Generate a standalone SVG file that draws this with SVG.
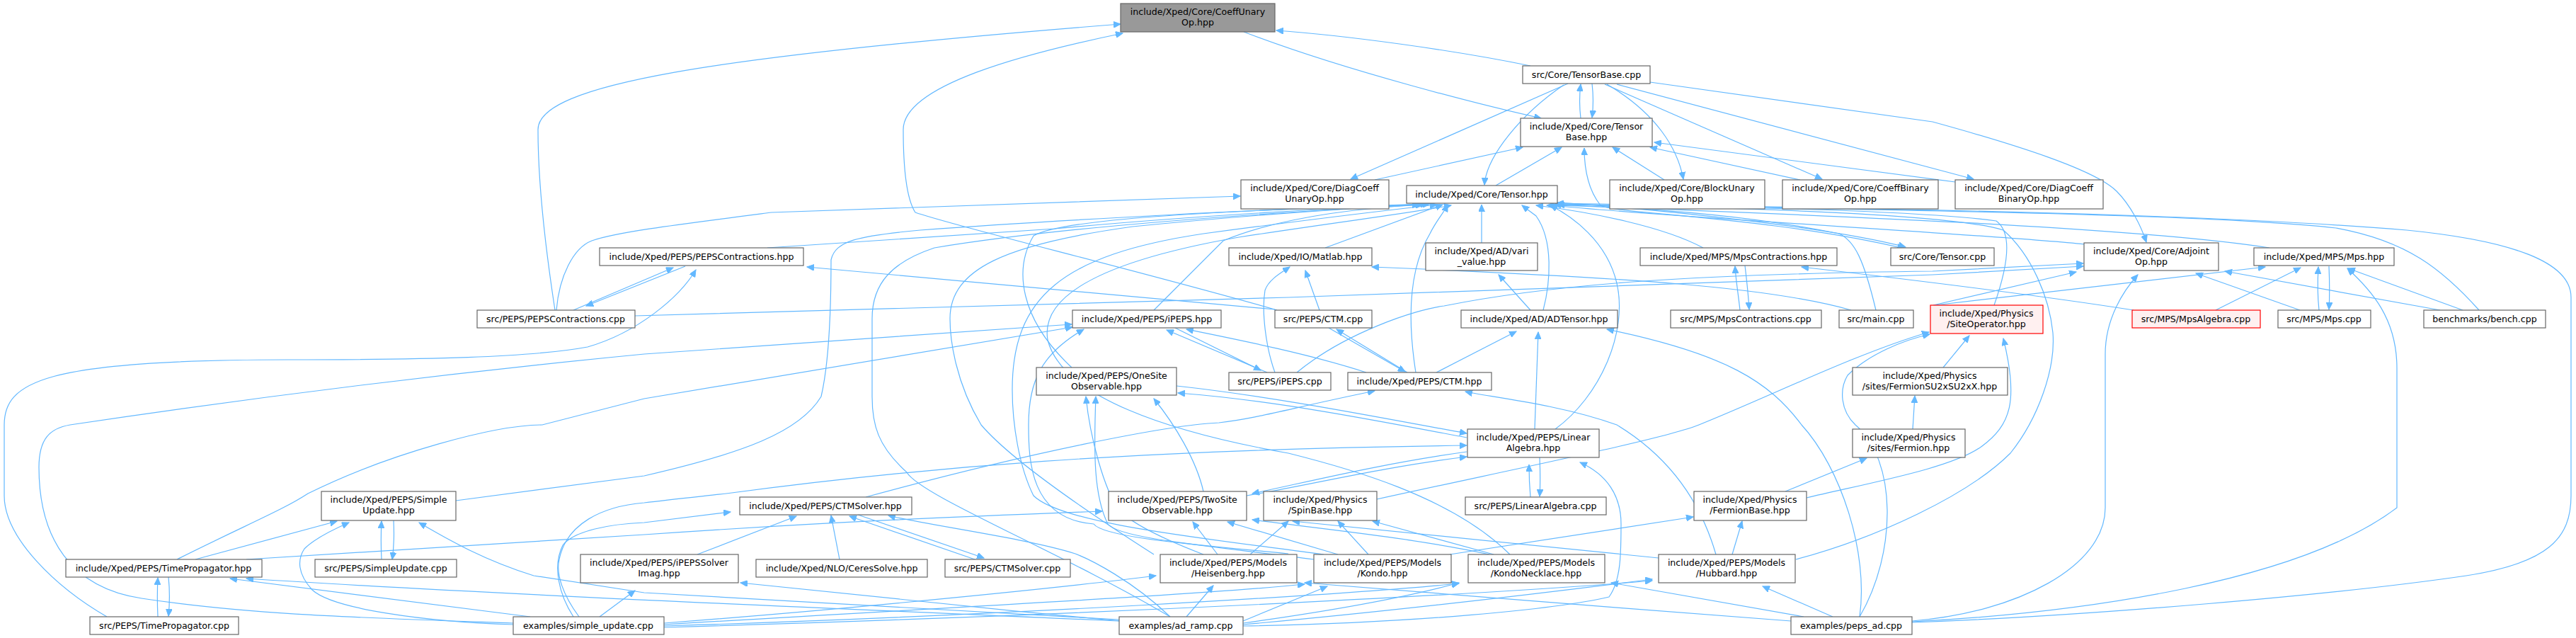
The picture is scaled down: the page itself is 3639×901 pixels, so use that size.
<svg xmlns="http://www.w3.org/2000/svg" width="3639" height="901" viewBox="0 0 3639 901">
<style>
.n rect{fill:#fff;stroke:#666;stroke-width:1.2}
.m rect{fill:#999;stroke:#666;stroke-width:1.2}
.r rect{fill:#fff0f0;stroke:#ff0000;stroke-width:1.2}
text{font-family:"DejaVu Sans",sans-serif;font-size:12.6px;fill:#000;text-anchor:middle}
#edges path{fill:none;stroke:#63b8ff;stroke-width:1.2;marker-end:url(#a)}
#edges path.b{marker-start:url(#s)}
</style>
<defs>
<marker id="a" markerWidth="11" markerHeight="9" refX="10" refY="4.5" orient="auto" markerUnits="userSpaceOnUse"><path d="M0,0 L10,4.5 L0,9 z" fill="#63b8ff" stroke="#63b8ff"/></marker>
<marker id="s" markerWidth="11" markerHeight="9" refX="10" refY="4.5" orient="auto-start-reverse" markerUnits="userSpaceOnUse"><path d="M0,0 L10,4.5 L0,9 z" fill="#63b8ff" stroke="#63b8ff"/></marker>
</defs>
<rect width="3639" height="901" fill="#fff"/>
<g id="edges">
<path d="M2162,93 C2050,70 1900,50 1803,43"/>
<path d="M1757,45 C1900,100 2100,150 2177,167"/>
<path d="M784,438 C772,360 760,260 760,183 C760,120 1000,80 1583,34"/>
<path d="M1804,438 C1600,380 1350,320 1293,300 C1280,280 1276,230 1276,183 C1276,120 1450,75 1586,47"/>
<path d="M2233,167 C2231,150 2231,135 2233,119"/>
<path d="M2249,118 C2251,135 2251,150 2249,166"/>
<path d="M2215,118 L1908,253"/>
<path d="M2209,120 C2150,160 2100,220 2097,261"/>
<path d="M2270,119 C2340,160 2370,210 2378,253"/>
<path d="M2267,119 L2574,253"/>
<path d="M2284,119 L2788,253"/>
<path d="M2331,116 L2730,172 C2850,205 2960,240 2990,270 C3010,290 3025,320 3032,342"/>
<path d="M1942,254 L2151,208"/>
<path d="M2113,262 L2206,208"/>
<path class="b" d="M2690,351 C2500,306 2280,302 2261,290 C2245,270 2238,240 2238,209"/>
<path d="M2351,254 L2278,208"/>
<path d="M2543,254 L2331,208"/>
<path d="M2762,257 L2337,201"/>
<path d="M786,438 C790,390 810,350 836,340 C870,328 950,318 1090,300 L1752,277"/>
<path d="M1084,350 L1490,323 C1650,308 1800,298 2017,288"/>
<path d="M968,376 L828,432"/>
<path d="M810,438 L951,378"/>
<path d="M151,871 C80,830 6,760 6,700 L6,600 C6,540 60,508 406,508 C600,508 750,505 830,490 C900,470 960,420 983,381"/>
<path d="M1801,437 L1140,377"/>
<path d="M1801,526 C1788,490 1782,440 1787,410 C1792,395 1810,385 1822,377"/>
<path d="M1864,438 L1844,382"/>
<path d="M2615,438 C2500,405 2300,392 1938,377"/>
<path d="M1872,350 L2038,289"/>
<path d="M2093,343 L2093,289"/>
<path d="M2162,438 L2117,388"/>
<path d="M2180,438 C2190,400 2195,340 2170,305 L2150,290"/>
<path d="M2029,526 L2142,468"/>
<path d="M2168,606 L2173,469"/>
<path d="M2627,871 C2640,780 2600,660 2545,600 C2500,540 2440,500 2270,465"/>
<path d="M2406,350 C2350,320 2250,300 2170,290"/>
<path d="M2465,375 C2468,400 2470,420 2471,437"/>
<path d="M2458,438 C2455,410 2452,395 2451,376"/>
<path d="M3014,438 C2900,420 2700,395 2545,377"/>
<path d="M2190,285 C2400,300 2600,325 2692,349"/>
<path d="M2945,345 C2800,330 2400,310 2190,290"/>
<path d="M3206,350 C3000,318 2500,302 2195,289"/>
<path d="M3502,438 C3450,380 3400,340 3300,322 C3100,300 2600,296 2198,288"/>
<path d="M2701,879 C2950,870 3300,840 3484,813 C3600,795 3632,760 3632,700 L3632,420 C3632,370 3550,340 3400,325 C3100,300 2600,294 2199,287"/>
<path d="M2701,878 C2950,865 3250,820 3386,717 L3386,520 C3386,450 3350,410 3316,379"/>
<path d="M2701,877 C2850,865 2974,800 2974,717 L2974,500 C2974,450 3000,410 3020,388"/>
<path d="M3249,438 L3102,386"/>
<path d="M3447,438 L3143,383"/>
<path d="M2731,431 L2933,384"/>
<path d="M2733,431 L3200,377"/>
<path d="M897,446 L1820,420 L2730,388 L2943,376"/>
<path d="M1832,526 C1900,470 2000,437 2040,432 C2200,400 2400,387 2730,383 L2943,372"/>
<path d="M3130,438 L3250,378"/>
<path d="M3276,438 C3274,420 3274,395 3275,377"/>
<path d="M3290,376 C3291,400 3291,420 3290,437"/>
<path d="M3479,438 L3317,379"/>
<path d="M2817,431 C2835,380 2845,330 2820,312 C2700,296 2400,291 2200,289"/>
<path d="M2537,790 C2650,760 2780,700 2840,640 C2880,590 2904,520 2900,470 C2895,420 2870,360 2830,325 C2750,300 2400,292 2200,289"/>
<path d="M2745,519 L2782,474"/>
<path d="M2552,703 C2650,680 2760,660 2800,630 C2840,600 2852,567 2830,478"/>
<path d="M1945,705 C2150,660 2350,620 2400,600 C2500,560 2620,500 2725,469"/>
<path d="M2627,871 C2680,780 2680,650 2621,600 C2600,580 2598,550 2610,530 C2640,500 2690,480 2726,472"/>
<path d="M2702,606 L2705,559"/>
<path d="M2522,694 L2637,647"/>
<path d="M2447,783 L2461,736"/>
<path d="M2048,783 L2392,730"/>
<path d="M1933,783 L1890,736"/>
<path d="M2110,783 L1939,736"/>
<path d="M2343,788 L1826,736"/>
<path d="M1766,783 L1820,736"/>
<path d="M2650,438 C2633,367 2620,340 2598,330 C2450,300 2300,292 2185,290"/>
<path d="M1630,438 L1728,340 C1800,310 1900,295 2010,289"/>
<path d="M1514,519 C1440,450 1432,380 1460,333 C1500,310 1700,298 2005,289"/>
<path d="M2000,526 C1988,450 1990,380 2020,330 C2030,310 2040,300 2045,289"/>
<path d="M2197,606 C2260,560 2300,470 2284,400 C2270,340 2220,305 2190,290"/>
<path d="M644,707 L910,672 C1050,640 1130,610 1160,560 C1174,500 1174,400 1174,367 C1180,340 1212,333 1300,325 C1500,310 1800,295 2010,288"/>
<path d="M1653,871 C1500,780 1300,700 1281,667 C1240,630 1232,600 1232,560 L1232,450 C1232,400 1260,370 1320,350 C1500,320 1800,300 2010,289"/>
<path d="M1630,783 C1500,700 1420,640 1386,600 C1350,540 1342,480 1342,450 C1342,380 1420,345 1600,320 C1800,300 1950,292 2020,288"/>
<path d="M1870,783 C1700,760 1500,740 1460,700 C1440,660 1430,600 1430,550 C1430,420 1500,360 1700,330 C1850,310 1950,298 2030,289"/>
<path d="M2133,783 C2050,700 1900,660 1820,640 C1650,610 1500,560 1480,480 C1470,420 1550,370 1750,335 C1900,312 2000,300 2050,290"/>
<path d="M1988,526 L1888,465"/>
<path d="M1877,463 L1985,525"/>
<path d="M1790,526 L1648,466"/>
<path d="M1660,463 L1781,523"/>
<path d="M1930,526 C1850,500 1750,480 1676,465"/>
<path d="M250,790 C350,740 400,720 435,697 C550,640 700,600 766,600 L910,563 L1515,462"/>
<path d="M725,880 C500,872 350,868 200,845 C100,830 55,760 55,660 C55,620 70,605 99,600 C300,570 600,530 910,500 L1514,458"/>
<path d="M276,790 L476,736"/>
<path d="M725,882 C600,878 470,860 441,833 C420,810 420,790 430,775 C445,760 470,748 493,738"/>
<path d="M1581,875 C1300,860 1000,840 910,837 L754,813 C680,790 630,760 592,738"/>
<path d="M539,790 C538,770 538,755 539,736"/>
<path d="M556,735 C557,755 557,770 554,790"/>
<path d="M223,871 C222,850 222,835 223,816"/>
<path d="M238,815 C240,835 240,850 238,870"/>
<path d="M749,871 L325,817"/>
<path d="M1581,877 C1200,860 700,840 348,817"/>
<path d="M348,790 L910,755 C1200,735 1400,728 1557,722"/>
<path d="M818,871 C795,840 785,810 790,790 C800,740 850,715 910,710 C950,705 1000,700 1026,697 C1300,660 1600,635 2072,629"/>
<path d="M810,871 C790,840 780,800 795,770 C810,750 860,740 910,738 L1032,723"/>
<path d="M847,871 L897,834"/>
<path d="M938,880 C1200,860 1500,830 1633,813"/>
<path d="M985,783 L1125,729"/>
<path d="M1186,790 L1174,728"/>
<path d="M1380,791 L1200,729"/>
<path d="M1212,727 L1390,788"/>
<path d="M1653,871 C1600,820 1540,790 1519,782 C1450,760 1300,740 1255,728"/>
<path d="M1583,877 C1400,860 1200,840 1046,823"/>
<path d="M1223,702 C1450,640 1650,600 1722,597 C1780,590 1820,577 1942,552"/>
<path d="M1720,783 L1685,737"/>
<path d="M1890,783 L1734,737"/>
<path d="M2104,783 C2000,760 1850,745 1769,734"/>
<path d="M1761,700 C1850,685 1950,660 2072,645"/>
<path d="M2072,638 C1950,655 1850,680 1769,697"/>
<path d="M1700,783 C1640,760 1600,740 1580,720 C1560,690 1540,620 1534,560"/>
<path d="M1856,790 C1700,770 1580,760 1565,740 C1545,700 1545,640 1548,560"/>
<path d="M1700,694 C1690,650 1660,600 1630,563"/>
<path d="M1662,545 C1800,560 1950,590 2072,612"/>
<path d="M2072,618 C1950,595 1800,565 1664,555"/>
<path d="M1676,871 L1714,827"/>
<path d="M1756,877 L1875,828"/>
<path d="M2530,877 C2300,860 2000,835 1843,823"/>
<path d="M1756,880 C1900,860 2000,840 2061,823"/>
<path d="M1756,882 C2000,860 2200,835 2334,818"/>
<path d="M1756,884 C2000,880 2200,860 2273,843 C2290,820 2290,780 2290,740 C2290,700 2270,670 2232,653"/>
<path d="M2589,871 L2490,828"/>
<path d="M2548,871 L2276,823"/>
<path d="M938,882 C1300,860 1700,840 1843,825"/>
<path d="M938,884 C1400,870 1900,840 2061,824"/>
<path d="M938,886 C1500,870 2100,840 2334,820"/>
<path d="M2162,702 C2160,680 2160,665 2160,656"/>
<path d="M2175,646 C2176,670 2176,685 2175,701"/>
<path d="M2424,783 C2400,700 2350,640 2284,600 C2200,570 2100,560 2070,553"/>
<path d="M1820,782 C1700,770 1560,760 1545,740 C1455,733 1453,650 1453,600 C1453,540 1470,500 1531,465"/>
</g>
<g id="cu" class="m"><rect x="1583" y="5" width="218" height="40"/><text x="1692" y="21">include/Xped/Core/CoeffUnary</text><text x="1692" y="36">Op.hpp</text></g>
<g id="tbc" class="n"><rect x="2151" y="93" width="180" height="25"/><text x="2241" y="110">src/Core/TensorBase.cpp</text></g>
<g id="tbh" class="n"><rect x="2148" y="167" width="186" height="40"/><text x="2241" y="183">include/Xped/Core/Tensor</text><text x="2241" y="198">Base.hpp</text></g>
<g id="dcu" class="n"><rect x="1753" y="254" width="209" height="41"/><text x="1857" y="270">include/Xped/Core/DiagCoeff</text><text x="1857" y="285">UnaryOp.hpp</text></g>
<g id="t" class="n"><rect x="1987" y="262" width="213" height="25"/><text x="2093" y="279">include/Xped/Core/Tensor.hpp</text></g>
<g id="bu" class="n"><rect x="2274" y="254" width="219" height="41"/><text x="2383" y="270">include/Xped/Core/BlockUnary</text><text x="2383" y="285">Op.hpp</text></g>
<g id="cb" class="n"><rect x="2518" y="254" width="220" height="41"/><text x="2628" y="270">include/Xped/Core/CoeffBinary</text><text x="2628" y="285">Op.hpp</text></g>
<g id="dcb" class="n"><rect x="2762" y="254" width="209" height="41"/><text x="2866" y="270">include/Xped/Core/DiagCoeff</text><text x="2866" y="285">BinaryOp.hpp</text></g>
<g id="pch" class="n"><rect x="847" y="350" width="288" height="25"/><text x="991" y="367">include/Xped/PEPS/PEPSContractions.hpp</text></g>
<g id="ml" class="n"><rect x="1736" y="350" width="202" height="25"/><text x="1837" y="367">include/Xped/IO/Matlab.hpp</text></g>
<g id="vv" class="n"><rect x="2014" y="343" width="158" height="39"/><text x="2093" y="359">include/Xped/AD/vari</text><text x="2093" y="374">_value.hpp</text></g>
<g id="mch" class="n"><rect x="2317" y="350" width="278" height="25"/><text x="2456" y="367">include/Xped/MPS/MpsContractions.hpp</text></g>
<g id="tc" class="n"><rect x="2671" y="350" width="146" height="25"/><text x="2744" y="367">src/Core/Tensor.cpp</text></g>
<g id="ao" class="n"><rect x="2944" y="343" width="190" height="39"/><text x="3039" y="359">include/Xped/Core/Adjoint</text><text x="3039" y="374">Op.hpp</text></g>
<g id="mps" class="n"><rect x="3184" y="350" width="198" height="25"/><text x="3283" y="367">include/Xped/MPS/Mps.hpp</text></g>
<g id="pcc" class="n"><rect x="674" y="438" width="223" height="25"/><text x="785" y="455">src/PEPS/PEPSContractions.cpp</text></g>
<g id="ip" class="n"><rect x="1515" y="438" width="210" height="25"/><text x="1620" y="455">include/Xped/PEPS/iPEPS.hpp</text></g>
<g id="ctmc" class="n"><rect x="1801" y="438" width="137" height="25"/><text x="1869" y="455">src/PEPS/CTM.cpp</text></g>
<g id="ad" class="n"><rect x="2064" y="438" width="221" height="25"/><text x="2174" y="455">include/Xped/AD/ADTensor.hpp</text></g>
<g id="mcc" class="n"><rect x="2360" y="438" width="213" height="25"/><text x="2466" y="455">src/MPS/MpsContractions.cpp</text></g>
<g id="main" class="n"><rect x="2598" y="438" width="105" height="25"/><text x="2650" y="455">src/main.cpp</text></g>
<g id="so" class="r"><rect x="2727" y="431" width="159" height="40"/><text x="2806" y="447">include/Xped/Physics</text><text x="2806" y="462">/SiteOperator.hpp</text></g>
<g id="ma" class="r"><rect x="3012" y="438" width="181" height="25"/><text x="3102" y="455">src/MPS/MpsAlgebra.cpp</text></g>
<g id="mpc" class="n"><rect x="3218" y="438" width="131" height="25"/><text x="3283" y="455">src/MPS/Mps.cpp</text></g>
<g id="ben" class="n"><rect x="3424" y="438" width="172" height="25"/><text x="3510" y="455">benchmarks/bench.cpp</text></g>
<g id="os" class="n"><rect x="1464" y="519" width="198" height="39"/><text x="1563" y="535">include/Xped/PEPS/OneSite</text><text x="1563" y="550">Observable.hpp</text></g>
<g id="ipc" class="n"><rect x="1736" y="526" width="144" height="25"/><text x="1808" y="543">src/PEPS/iPEPS.cpp</text></g>
<g id="ctmh" class="n"><rect x="1904" y="526" width="203" height="25"/><text x="2005" y="543">include/Xped/PEPS/CTM.hpp</text></g>
<g id="fsu" class="n"><rect x="2617" y="519" width="219" height="39"/><text x="2726" y="535">include/Xped/Physics</text><text x="2726" y="550">/sites/FermionSU2xSU2xX.hpp</text></g>
<g id="la" class="n"><rect x="2073" y="606" width="186" height="40"/><text x="2166" y="622">include/Xped/PEPS/Linear</text><text x="2166" y="637">Algebra.hpp</text></g>
<g id="fer" class="n"><rect x="2617" y="606" width="159" height="40"/><text x="2696" y="622">include/Xped/Physics</text><text x="2696" y="637">/sites/Fermion.hpp</text></g>
<g id="su" class="n"><rect x="454" y="694" width="190" height="41"/><text x="549" y="710">include/Xped/PEPS/Simple</text><text x="549" y="725">Update.hpp</text></g>
<g id="ctms" class="n"><rect x="1045" y="702" width="243" height="25"/><text x="1166" y="719">include/Xped/PEPS/CTMSolver.hpp</text></g>
<g id="ts" class="n"><rect x="1566" y="694" width="195" height="41"/><text x="1663" y="710">include/Xped/PEPS/TwoSite</text><text x="1663" y="725">Observable.hpp</text></g>
<g id="sb" class="n"><rect x="1785" y="694" width="160" height="41"/><text x="1865" y="710">include/Xped/Physics</text><text x="1865" y="725">/SpinBase.hpp</text></g>
<g id="lac" class="n"><rect x="2070" y="702" width="199" height="25"/><text x="2169" y="719">src/PEPS/LinearAlgebra.cpp</text></g>
<g id="fb" class="n"><rect x="2393" y="694" width="159" height="41"/><text x="2472" y="710">include/Xped/Physics</text><text x="2472" y="725">/FermionBase.hpp</text></g>
<g id="tp" class="n"><rect x="93" y="790" width="277" height="25"/><text x="231" y="807">include/Xped/PEPS/TimePropagator.hpp</text></g>
<g id="suc" class="n"><rect x="445" y="790" width="200" height="25"/><text x="545" y="807">src/PEPS/SimpleUpdate.cpp</text></g>
<g id="ips" class="n"><rect x="820" y="783" width="223" height="40"/><text x="931" y="799">include/Xped/PEPS/iPEPSSolver</text><text x="931" y="814">Imag.hpp</text></g>
<g id="cs" class="n"><rect x="1068" y="790" width="242" height="25"/><text x="1189" y="807">include/Xped/NLO/CeresSolve.hpp</text></g>
<g id="ctmsc" class="n"><rect x="1335" y="790" width="177" height="25"/><text x="1423" y="807">src/PEPS/CTMSolver.cpp</text></g>
<g id="hei" class="n"><rect x="1639" y="783" width="193" height="40"/><text x="1735" y="799">include/Xped/PEPS/Models</text><text x="1735" y="814">/Heisenberg.hpp</text></g>
<g id="kon" class="n"><rect x="1856" y="783" width="194" height="40"/><text x="1953" y="799">include/Xped/PEPS/Models</text><text x="1953" y="814">/Kondo.hpp</text></g>
<g id="kn" class="n"><rect x="2074" y="783" width="193" height="40"/><text x="2170" y="799">include/Xped/PEPS/Models</text><text x="2170" y="814">/KondoNecklace.hpp</text></g>
<g id="hub" class="n"><rect x="2343" y="783" width="193" height="40"/><text x="2439" y="799">include/Xped/PEPS/Models</text><text x="2439" y="814">/Hubbard.hpp</text></g>
<g id="tpc" class="n"><rect x="127" y="871" width="210" height="25"/><text x="232" y="888">src/PEPS/TimePropagator.cpp</text></g>
<g id="sue" class="n"><rect x="725" y="871" width="213" height="25"/><text x="831" y="888">examples/simple_update.cpp</text></g>
<g id="adr" class="n"><rect x="1581" y="871" width="175" height="25"/><text x="1668" y="888">examples/ad_ramp.cpp</text></g>
<g id="pad" class="n"><rect x="2530" y="871" width="171" height="25"/><text x="2615" y="888">examples/peps_ad.cpp</text></g>
</svg>
